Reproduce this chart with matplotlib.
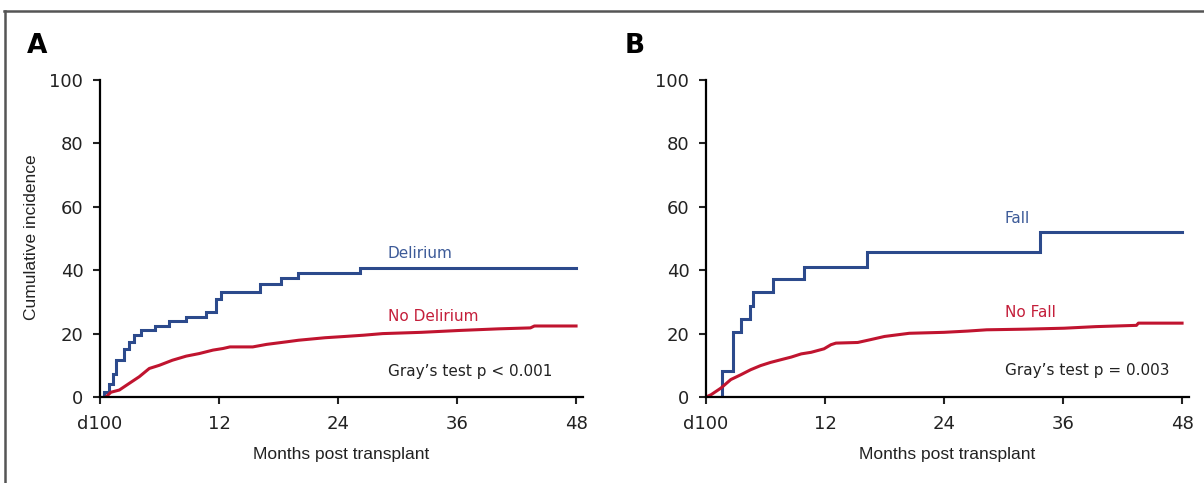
import matplotlib
matplotlib.use("Agg")
import matplotlib.pyplot as plt
from matplotlib.lines import Line2D

# Panel A: delirium vs no delirium (months after day 100)
delirium_t = [0, 0.45, 0.95, 1.3, 1.65, 2.45, 2.95, 3.45, 4.1, 5.5, 7.0, 8.7,
              10.7, 11.7, 12.2, 16.1, 18.3, 20.0, 26.2, 48]
delirium_v = [0, 1.6, 4.2, 7.4, 11.6, 15.2, 17.4, 19.5, 21.0, 22.3, 23.9, 25.2,
              26.8, 31.0, 33.1, 35.8, 37.5, 39.2, 40.7, 40.7]

no_delirium_t = [0.6, 1.1, 1.95, 2.95, 3.96, 4.97, 5.98, 7.3, 8.7, 10.0, 11.4,
                 12.4, 13.1, 15.4, 16.8, 18.8, 20.0, 22.7, 24.7, 26.6, 28.5,
                 32.4, 36.3, 40.2, 43.4, 43.8, 48]
no_delirium_v = [0, 1.5, 2.2, 4.3, 6.4, 9.0, 10.0, 11.6, 12.9, 13.7, 14.8,
                 15.3, 15.8, 15.8, 16.6, 17.4, 17.9, 18.7, 19.1, 19.5, 20.0,
                 20.4, 21.0, 21.5, 21.8, 22.4, 22.4]

# Panel B: fall vs no fall
fall_t = [0, 1.6, 2.7, 3.5, 4.4, 4.7, 6.8, 9.9, 16.2, 33.7, 48]
fall_v = [0, 8.3, 20.5, 24.6, 28.8, 33.0, 37.3, 41.0, 45.6, 52.2, 52.2]

no_fall_t = [0, 0.5, 1.5, 2.5, 3.5, 4.5, 5.5, 6.5, 7.6, 8.6, 9.6, 10.6, 11.9,
             12.6, 13.1, 15.3, 16.6, 18.0, 20.5, 24.0, 26.4, 28.3, 32.2, 36.1,
             39.3, 43.4, 43.6, 48]
no_fall_v = [0, 0.7, 2.8, 5.5, 7.0, 8.6, 9.9, 10.9, 11.8, 12.6, 13.6, 14.1, 15.2,
             16.5, 17.0, 17.2, 18.1, 19.1, 20.1, 20.4, 20.8, 21.2, 21.4, 21.7,
             22.2, 22.6, 23.3, 23.3]

x_ticks = [0, 12, 24, 36, 48]
x_tick_labels = ["d100", "12", "24", "36", "48"]
y_ticks = [0, 20, 40, 60, 80, 100]

BLUE = "#2c4a8c"
RED = "#c0142f"
BLUE_TXT = "#3c5a98"
RED_TXT = "#c41e3a"
INK = "#222222"
LABEL_FONT = ["Liberation Sans", "DejaVu Sans"]

W, H = 1204, 483
fig = plt.figure(figsize=(W / 100, H / 100), dpi=100)


def panel(left_px, group_t, group_v, ref_t, ref_v, names, test_txt, txt_x, txt_y):
    ax = fig.add_axes([left_px / W, (H - 397) / H, 483 / W, 317 / H])
    ax.plot(group_t, group_v, drawstyle="steps-post", color=BLUE, lw=2.2,
            solid_joinstyle="miter")
    ax.plot(ref_t, ref_v, color=RED, lw=2.2)
    ax.set_xlim(0, 48.7)
    ax.set_ylim(0, 100)
    ax.set_xticks(x_ticks)
    ax.set_xticklabels(x_tick_labels)
    ax.set_yticks(y_ticks)
    for s in ["top", "right"]:
        ax.spines[s].set_visible(False)
    for s in ["left", "bottom"]:
        ax.spines[s].set_linewidth(1.6)
    ax.spines["left"].set_bounds(0, 100)
    ax.tick_params(direction="out", length=5, width=1.5, labelsize=13, colors=INK)
    ax.tick_params(axis="x", pad=8)
    ax.tick_params(axis="y", pad=7)
    ax.text(txt_x, txt_y[0], names[0], color=BLUE_TXT, fontsize=11, va="center")
    ax.text(txt_x, txt_y[1], names[1], color=RED_TXT, fontsize=11, va="center")
    ax.text(txt_x, txt_y[2], test_txt, color=INK, fontsize=11, va="center")
    fig.text((left_px + 241) / W, 1 - 455 / H, "Months post transplant",
             family=LABEL_FONT, fontsize=12.5, ha="center", va="center", color=INK)
    return ax


panel(100, delirium_t, delirium_v, no_delirium_t, no_delirium_v,
      ["Delirium", "No Delirium"], "Gray\u2019s test p < 0.001", 29.0, [45.2, 25.4, 8.0])
panel(706, fall_t, fall_v, no_fall_t, no_fall_v,
      ["Fall", "No Fall"], "Gray\u2019s test p = 0.003", 30.1, [56.2, 26.5, 8.3])

fig.text(32 / W, 1 - 237 / H, "Cumulative incidence", family=LABEL_FONT, fontsize=12.5,
         rotation=90, ha="center", va="center", color=INK)
fig.text(37 / W, 1 - 46 / H, "A", fontsize=19, fontweight="bold", ha="center", va="center")
fig.text(635 / W, 1 - 46 / H, "B", fontsize=19, fontweight="bold", ha="center", va="center")

# outer frame: top and left edges only
fig.add_artist(Line2D([4 / W, 1], [1 - 11 / H, 1 - 11 / H], color="#555555", lw=1.8))
fig.add_artist(Line2D([5 / W, 5 / W], [0, 1 - 11 / H], color="#555555", lw=1.8))

fig.savefig("out.png", dpi=100)
